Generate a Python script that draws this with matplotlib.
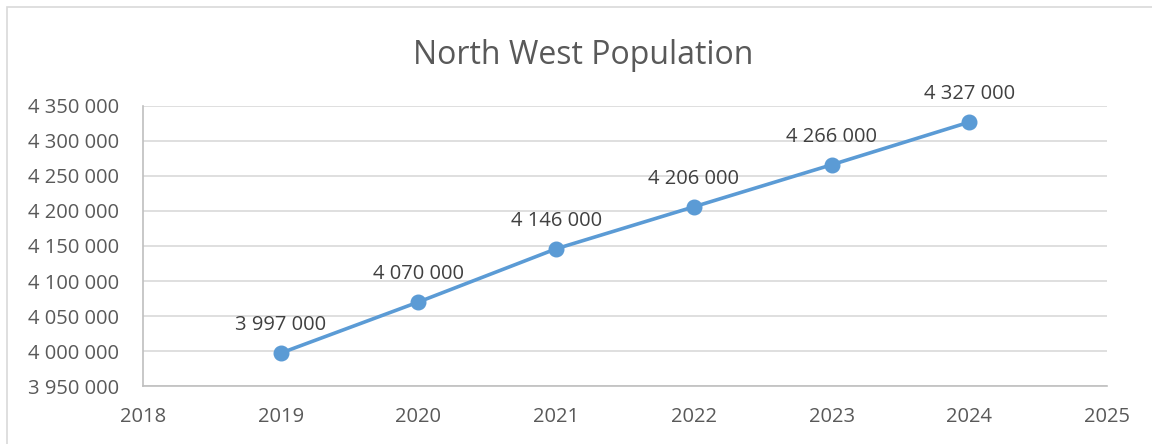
import matplotlib.pyplot as plt
from matplotlib.patches import Rectangle
from matplotlib.ticker import FuncFormatter

years = [2019, 2020, 2021, 2022, 2023, 2024]
population = [3997000, 4070000, 4146000, 4206000, 4266000, 4327000]

plt.rcParams['font.family'] = ['Open Sans', 'DejaVu Sans']

fig = plt.figure(figsize=(11.52, 4.44), dpi=100)
ax = fig.add_axes([0.1241, 0.1306, 0.8369, 0.6307])

# outer chart frame
fig.patches.append(Rectangle((7 / 1152, -0.05), 1.2, 1 - 7 / 444 + 0.05,
                             transform=fig.transFigure, fill=False,
                             edgecolor='#D9D9D9', linewidth=1.2))

ax.plot(years, population, color='#5B9BD5', linewidth=2.6,
        marker='o', markersize=10.5, zorder=3)

for x, y in zip(years, population):
    ax.annotate(f"{y:,}".replace(',', ' '), (x, y), xytext=(0, 13),
                textcoords='offset points', ha='center', va='bottom',
                fontsize=14.5, color='#404040')

ax.set_xlim(2018, 2025)
ax.set_ylim(3950000, 4350000)
ax.set_xticks(range(2018, 2026))
ax.set_yticks(range(3950000, 4350001, 50000))
ax.yaxis.set_major_formatter(FuncFormatter(lambda v, p: f"{int(v):,}".replace(',', ' ')))

ax.grid(axis='y', color='#D9D9D9', linewidth=1.2)
ax.set_axisbelow(True)
for side in ['top', 'right']:
    ax.spines[side].set_visible(False)
for side in ['left', 'bottom']:
    ax.spines[side].set_color('#BFBFBF')
    ax.spines[side].set_linewidth(1.2)
ax.tick_params(length=0, labelsize=14.5, labelcolor='#595959')
ax.tick_params(axis='y', pad=17)
ax.tick_params(axis='x', pad=15)

fig.suptitle('North West Population', x=0.506, y=0.912, fontsize=23,
             color='#595959')

fig.savefig('out.png', dpi=100)
